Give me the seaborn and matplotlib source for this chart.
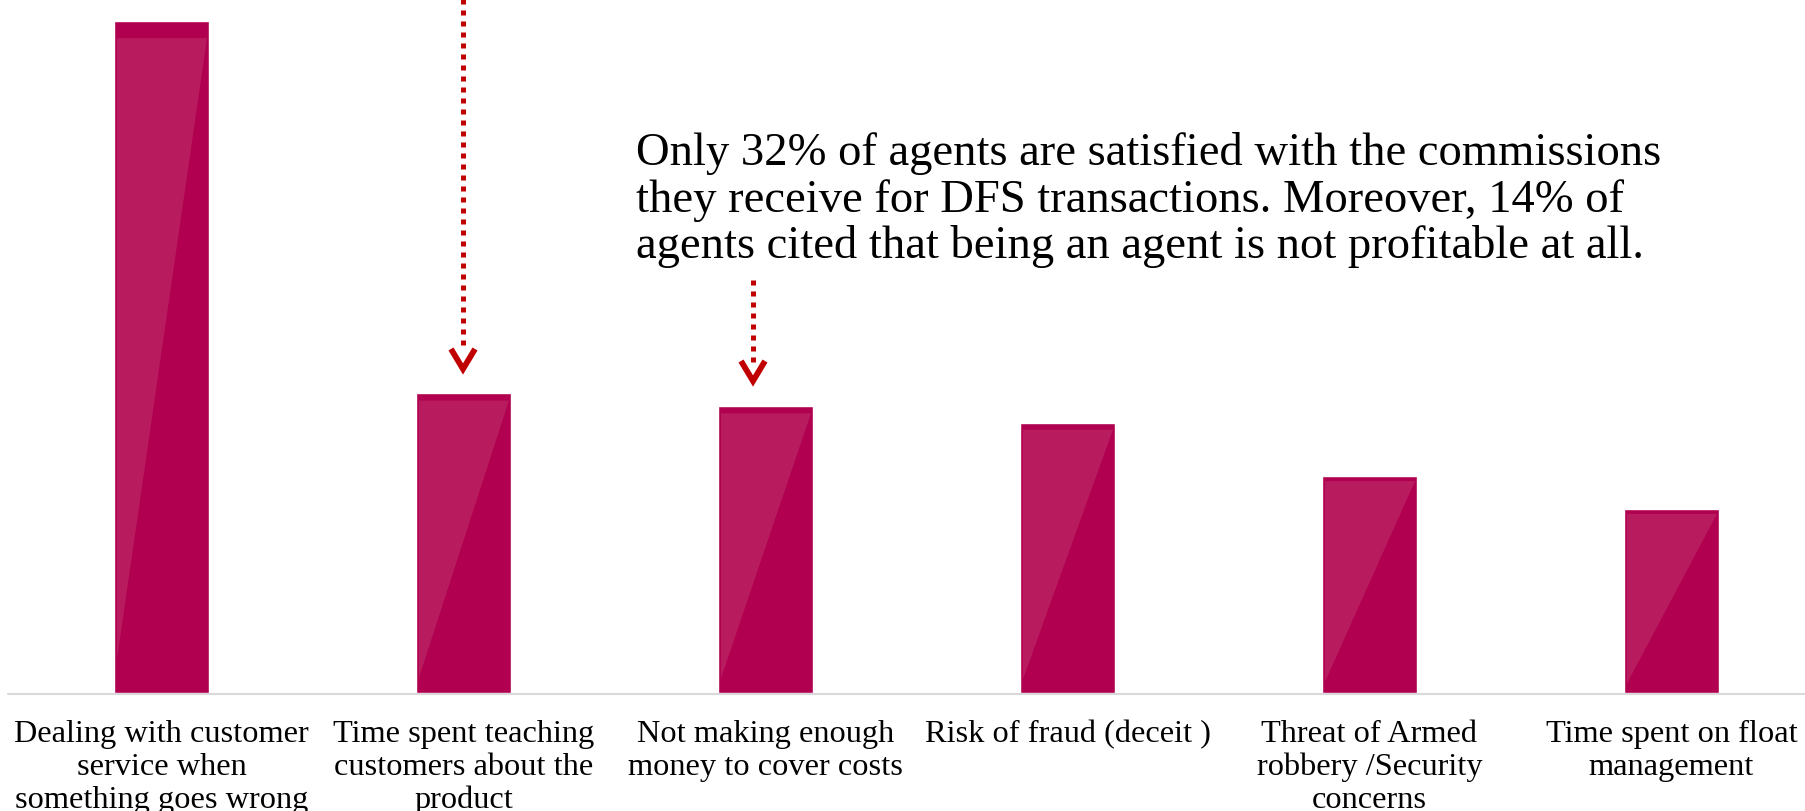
import matplotlib
matplotlib.use("Agg")
import matplotlib.pyplot as plt
import matplotlib.transforms as mtransforms
from matplotlib.patches import Polygon
from matplotlib.lines import Line2D
import seaborn as sns
import pandas as pd

# ---------------- data ----------------
categories = [
    "Dealing with customer service when something goes wrong",
    "Time spent teaching customers about the product",
    "Not making enough money to cover costs",
    "Risk of fraud (deceit )",
    "Threat of Armed robbery /Security concerns",
    "Time spent on float management",
]
label_lines = [
    ["Dealing with customer", "service when", "something goes wrong"],
    ["Time spent teaching", "customers about the", "product"],
    ["Not making enough", "money to cover costs"],
    ["Risk of fraud (deceit )"],
    ["Threat of Armed", "robbery /Security", "concerns"],
    ["Time spent on float", "management"],
]
values = [56.0, 25.0, 23.9, 22.5, 18.1, 15.3]
note_lines = [
    "Only 32% of agents are satisfied with the commissions",
    "they receive for DFS transactions. Moreover, 14% of",
    "agents cited that being an agent is not profitable at all.",
]

# ---------------- style ----------------
W, H = 1806, 812
BAR = "#B0004F"
SHINE = "#B91B5F"
ARROW = "#C00000"
AXIS = "#D9D9D9"

sns.set_theme(style="white")
plt.rcParams["font.family"] = ["Liberation Serif", "DejaVu Serif"]

fig = plt.figure(figsize=(W / 100, H / 100), dpi=100)
base_px = 693.7
px_per_unit = 12.0
ax = fig.add_axes([0, (H - base_px) / H, 1, base_px / H])

df = pd.DataFrame({"cat": categories, "val": values})
sns.barplot(data=df, x="cat", y="val", color=BAR, saturation=1,
            width=95 / 302, ax=ax, zorder=3)

ax.set_ylim(0, base_px / px_per_unit)
ax.set_xlim(-161.5 / 302, (W - 161.5) / 302)
ax.set_axis_off()

# glossy overlay on each bar
for p in list(ax.patches):
    x0, w, h = p.get_x(), p.get_width(), p.get_height()
    il, ir = w * 3 / 95, w * 2 / 95
    top = h * (1 - 0.026)
    poly = Polygon([(x0 + il, top), (x0 + w - ir, top), (x0 + il, h * 0.05)],
                   closed=True, facecolor=SHINE, edgecolor="none", zorder=4)
    ax.add_patch(poly)

# baseline
ax.axhline(-1 / px_per_unit, xmin=8 / W, xmax=1, color=AXIS, lw=1.5,
           zorder=1, clip_on=False)

# category labels
trans = mtransforms.blended_transform_factory(ax.transData, fig.transFigure)
label_base = [742, 775, 808]
for i, lines in enumerate(label_lines):
    for j, line in enumerate(lines):
        ax.text(i, 1 - label_base[j] / H, line, transform=trans,
                ha="center", va="baseline", fontsize=23.3, color="#000000",
                clip_on=False)

# annotation text
note_base = [165, 212, 258]
for j, line in enumerate(note_lines):
    fig.text(636 / W, 1 - note_base[j] / H, line, ha="left", va="baseline",
             fontsize=33.6, color="#000000")


def dotted_arrow(x, y0, y1, tip):
    fig.add_artist(Line2D([x / W, x / W], [1 - y0 / H, 1 - y1 / H],
                          transform=fig.transFigure, color=ARROW, lw=3.6,
                          linestyle=(0, (1, 1.2)), dash_capstyle="butt"))
    fig.add_artist(Line2D([(x - 12) / W, x / W, (x + 12) / W],
                          [1 - (tip - 20) / H, 1 - tip / H, 1 - (tip - 20) / H],
                          transform=fig.transFigure, color=ARROW, lw=4.2,
                          solid_joinstyle="miter", solid_capstyle="butt"))


dotted_arrow(463, 0, 352, 370)
dotted_arrow(753, 281, 364, 382)

fig.savefig("out.png", dpi=100)
